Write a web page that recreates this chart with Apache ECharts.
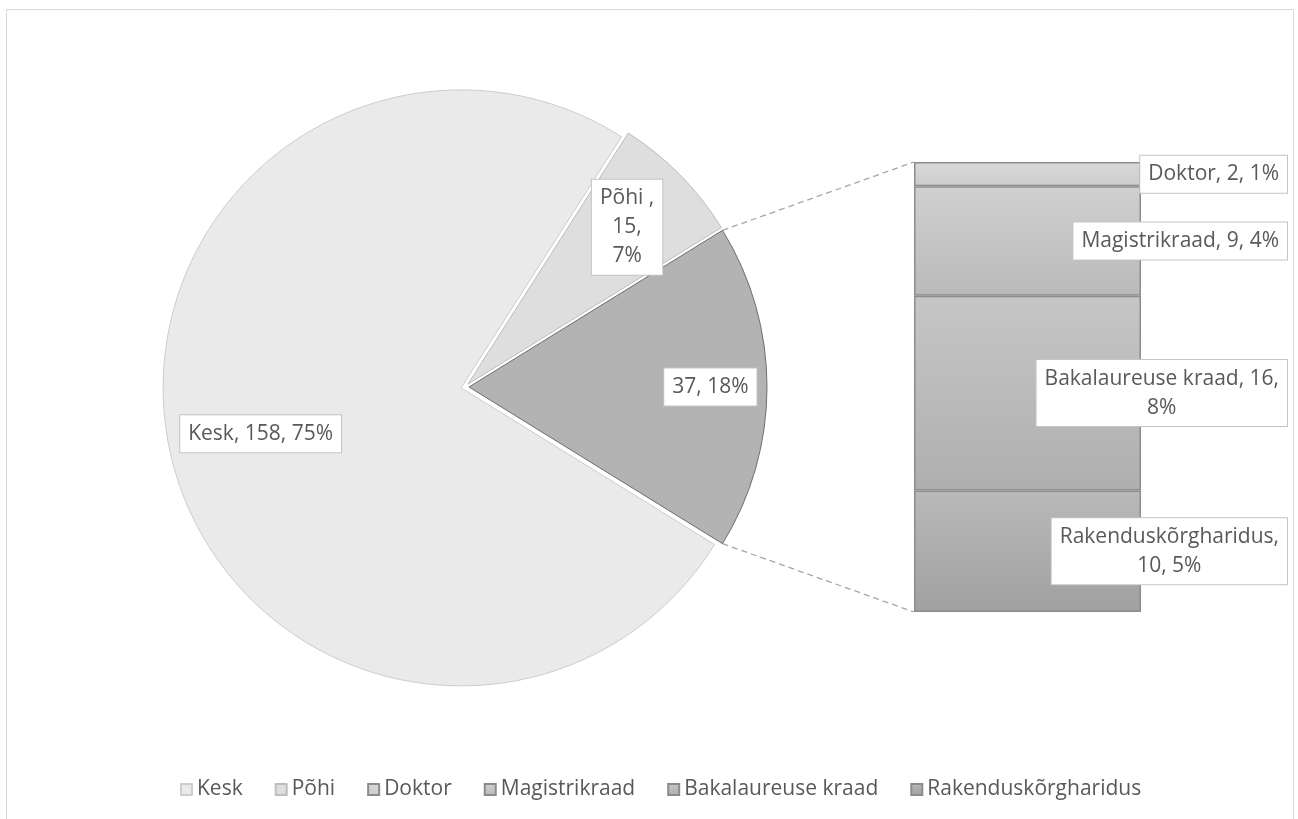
<!DOCTYPE html>
<html>
<head>
<meta charset="utf-8">
<script src="https://cdn.jsdelivr.net/npm/echarts@6/dist/echarts.min.js"></script>
<style>
  html, body { margin: 0; padding: 0; background: #fff; }
  #chart { width: 1298px; height: 819px; }
</style>
</head>
<body>
<div id="chart"></div>
<script>
// data
const pieNames = ['Kesk', 'Põhi '];
const pieValues = [158, 15];
const otherName = 'Muu';
const barNames = ['Doktor', 'Magistrikraad', 'Bakalaureuse kraad', 'Rakenduskõrgharidus'];
const barValues = [2, 9, 16, 10];

const otherValue = barValues.reduce((a, b) => a + b, 0);
const total = pieValues.reduce((a, b) => a + b, 0) + otherValue;

// look
const TEXT = '#595959';
const FONT = "'Open Sans', sans-serif";
const pieCenter = [465, 387];
const pieRadius = 298;
const explode = 4;
const grid = { left: 914, top: 162, width: 227, height: 450 };
const labelRight = 1288;

const pieFill = ['#eaeaea', '#dedede', '#b3b3b3'];
const pieBorder = ['#cdcdcd', '#bdbdbd', '#6e6e6e'];
const pieLabelRadius = [0.69, 0.75, 0.81];
const pieWrap = [30, 5, 30];
const barFill = [
  ['#dadada', '#cbcbcb'],
  ['#d0d0d0', '#b9b9b9'],
  ['#c6c6c6', '#afafaf'],
  ['#b9b9b9', '#a0a0a0']
];
const barBorder = '#8c8c8c';

function pct(v) {
  return Math.round(v / total * 100) + '%';
}

// greedy wrap of the label parts, like excel does in narrow boxes
function wrap(parts, max) {
  const lines = [];
  let cur = '';
  parts.forEach((p, i) => {
    const s = i < parts.length - 1 ? p + ',' : p;
    if (!cur) cur = s;
    else if ((cur + ' ' + s).length <= max) cur += ' ' + s;
    else { lines.push(cur); cur = s; }
  });
  lines.push(cur);
  return lines.join('\n');
}

const labelBox = {
  color: TEXT,
  fontFamily: FONT,
  fontSize: 21,
  lineHeight: 29,
  align: 'center',
  backgroundColor: '#fff',
  borderColor: '#c4c4c4',
  borderWidth: 1,
  padding: [4, 8]
};

const half = otherValue / total * 180;
const startAngle = 360 - half;
const pieAll = pieValues.concat([otherValue]);
const pieItemNames = pieAll.map((v, i) => i < pieNames.length ? pieNames[i] : otherName);

function midAngle(i) {
  let before = 0;
  for (let k = 0; k < i; k++) before += pieAll[k];
  return startAngle - (before + pieAll[i] / 2) / total * 360;
}

const pieData = pieAll.map((v, i) => {
  const st = { color: pieFill[i], borderColor: pieBorder[i], borderWidth: 1 };
  return { name: pieItemNames[i], value: v, selected: true, itemStyle: st, select: { itemStyle: st } };
});

const barSeries = barNames.map((n, i) => ({
  name: n,
  type: 'bar',
  stack: 'other',
  barWidth: '100%',
  data: [barValues[i]],
  itemStyle: {
    color: {
      type: 'linear', x: 0, y: 0, x2: 0, y2: 1,
      colorStops: [{ offset: 0, color: barFill[i][0] }, { offset: 1, color: barFill[i][1] }]
    },
    borderColor: barBorder,
    borderWidth: 1.5
  },
  label: Object.assign({
    show: true,
    position: 'inside',
    formatter: () => wrap([n, String(barValues[i]), pct(barValues[i])], 23)
  }, labelBox),
  // boxes sit right-aligned against the chart edge, text centred inside
  labelLayout: (p) => ({
    x: labelRight - p.labelRect.width / 2,
    y: p.rect.y + p.rect.height / 2,
    align: 'center',
    verticalAlign: 'middle'
  }),
  emphasis: { disabled: true }
})).reverse();

// dashed connectors from the "other" slice to the bar
const rad = Math.PI / 180;
const edgeX = pieCenter[0] + explode + pieRadius * Math.cos(half * rad);
const edgeDy = pieRadius * Math.sin(half * rad);
const lineStyle = { stroke: '#a6a6a6', lineWidth: 1.3, lineDash: [6, 4] };

const pieBase = {
  type: 'pie',
  center: pieCenter,
  radius: pieRadius,
  startAngle: startAngle,
  clockwise: true,
  avoidLabelOverlap: false,
  emphasis: { disabled: true },
  labelLine: { show: false }
};

const chart = echarts.init(document.getElementById('chart'));
chart.setOption({
  animation: false,
  backgroundColor: '#fff',
  legend: {
    data: pieNames.concat(barNames),
    top: 774,
    left: 175,
    icon: 'rect',
    itemWidth: 11,
    itemHeight: 11,
    itemGap: 32,
    selectedMode: false,
    formatter: (n) => n.trim(),
    textStyle: { color: TEXT, fontFamily: FONT, fontSize: 21 }
  },
  grid: grid,
  xAxis: { type: 'category', data: ['x'], show: false },
  yAxis: { type: 'value', min: 0, max: otherValue, show: false },
  graphic: [
    { type: 'rect', shape: { x: 6.5, y: 9.5, width: 1287, height: 830 }, style: { fill: 'none', stroke: '#d9d9d9', lineWidth: 1 }, silent: true },
    { type: 'line', shape: { x1: edgeX, y1: pieCenter[1] - edgeDy, x2: grid.left, y2: grid.top }, style: lineStyle, silent: true },
    { type: 'line', shape: { x1: edgeX, y1: pieCenter[1] + edgeDy, x2: grid.left, y2: grid.top + grid.height }, style: lineStyle, silent: true }
  ],
  series: [
    Object.assign({}, pieBase, {
      selectedMode: 'multiple',
      selectedOffset: explode,
      data: pieData,
      label: { show: false }
    }),
    // same slices again, invisible, only to carry the data labels
    Object.assign({}, pieBase, {
      silent: true,
      z: 3,
      data: pieAll.map((v, i) => ({ name: pieItemNames[i], value: v })),
      itemStyle: { color: 'rgba(0,0,0,0)', borderWidth: 0 },
      label: Object.assign({
        show: true,
        position: 'inside',
        formatter: (p) => {
          const parts = p.dataIndex < pieNames.length ? [p.name] : [];
          parts.push(String(p.value), pct(p.value));
          return wrap(parts, pieWrap[p.dataIndex]);
        }
      }, labelBox),
      labelLayout: (p) => {
        const i = p.dataIndex;
        const a = midAngle(i) * rad;
        const r = pieRadius * pieLabelRadius[i] + explode;
        return {
          x: pieCenter[0] + r * Math.cos(a),
          y: pieCenter[1] - r * Math.sin(a),
          align: 'center',
          verticalAlign: 'middle'
        };
      }
    })
  ].concat(barSeries)
});
</script>
</body>
</html>
